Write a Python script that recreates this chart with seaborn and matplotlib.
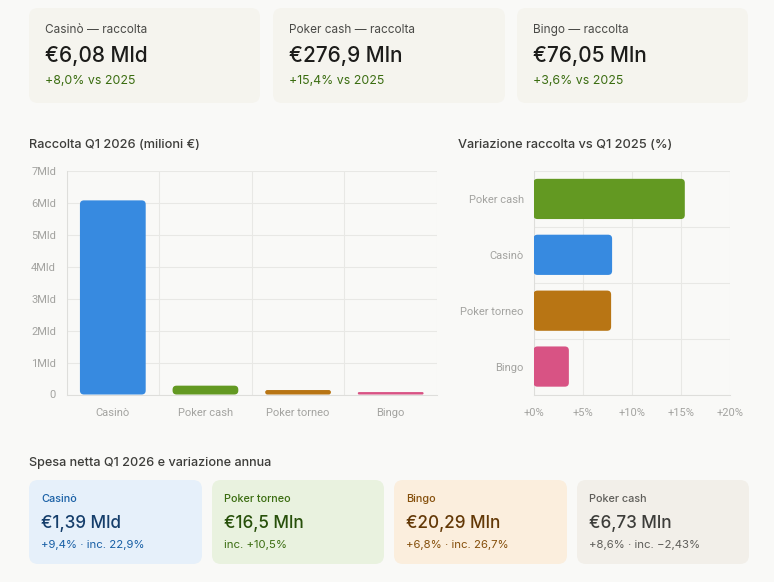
import matplotlib
matplotlib.use('Agg')
import matplotlib.pyplot as plt
import pandas as pd
import seaborn as sns
from matplotlib.patches import FancyBboxPatch
from matplotlib.transforms import Affine2D

# data
categories = ['Casinò', 'Poker cash', 'Poker torneo', 'Bingo']
raccolta = [6080, 276.9, 140, 76.05]
var_categories = ['Poker cash', 'Casinò', 'Poker torneo', 'Bingo']
variazione = [15.4, 8.0, 7.9, 3.6]
y_ticks = [0, 1000, 2000, 3000, 4000, 5000, 6000, 7000]
y_labels = ['0', '1Mld', '2Mld', '3Mld', '4Mld', '5Mld', '6Mld', '7Mld']
x_ticks = [0, 5, 10, 15, 20]
x_labels = ['+0%', '+5%', '+10%', '+15%', '+20%']

top_labels = ['Casinò — raccolta', 'Poker cash — raccolta', 'Bingo — raccolta']
top_values = ['€6,08 Mld', '€276,9 Mln', '€76,05 Mln']
top_deltas = ['+8,0% vs 2025', '+15,4% vs 2025', '+3,6% vs 2025']

bottom_labels = ['Casinò', 'Poker torneo', 'Bingo', 'Poker cash']
bottom_values = ['€1,39 Mld', '€16,5 Mln', '€20,29 Mln', '€6,73 Mln']
bottom_notes = ['+9,4% · inc. 22,9%', 'inc. +10,5%', '+6,8% · inc. 26,7%', '+8,6% · inc. −2,43%']

BG = '#f9f9f7'
GRID = '#e8e8e5'
TICK = '#a3a3a0'
colors = {'Casinò': '#378ae0', 'Poker cash': '#639922', 'Poker torneo': '#b87514', 'Bingo': '#d85384'}

W, H = 774, 582
sns.set_theme(style='white')
plt.rcParams['font.family'] = ['Inter', 'DejaVu Sans']
fig = plt.figure(figsize=(W / 100, H / 100), dpi=100, facecolor=BG)

# pixel coords, y going down like the screenshot
px = Affine2D().scale(1, -1).translate(0, H)


def card(x0, y0, x1, y1, color, r=9):
    fig.add_artist(FancyBboxPatch((x0 + r, y0 + r), x1 - x0 - 2 * r, y1 - y0 - 2 * r,
                                  boxstyle=f'round,pad={r},rounding_size={r}',
                                  fc=color, ec='none', transform=px))


def label(x, y, s, size, color, weight='normal'):
    fig.text(x, y, s, fontsize=size, color=color, fontweight=weight, va='center', ha='left', transform=px)


def axes_px(x0, y0, x1, y1):
    return fig.add_axes([x0 / W, 1 - y1 / H, (x1 - x0) / W, (y1 - y0) / H])


def style_axes(ax):
    ax.set_facecolor(BG)
    ax.set_xlabel('')
    ax.set_ylabel('')
    ax.grid(True, color=GRID, lw=0.75)
    ax.set_axisbelow(True)
    for s in ax.spines.values():
        s.set_visible(False)
    for s in ['left', 'bottom']:
        ax.spines[s].set_visible(True)
        ax.spines[s].set_color('#dededb')
        ax.spines[s].set_linewidth(0.75)
    ax.tick_params(length=3, width=0.75, color=GRID, labelcolor=TICK, labelsize=8, pad=4.5)
    for t in ax.get_xticklabels() + ax.get_yticklabels():
        t.set_fontfamily('Roboto')


def round_bars(ax, cols, r=4):
    # swap seaborn's square bars for rounded ones at the same place
    fig.canvas.draw()
    for p, c in zip(list(ax.patches), cols):
        b = p.get_window_extent()
        rr = min(r, b.width / 2, b.height / 2)
        p.set_visible(False)
        ax.add_patch(FancyBboxPatch((b.x0 + rr, b.y0 + rr), b.width - 2 * rr, b.height - 2 * rr,
                                    boxstyle=f'round,pad={rr},rounding_size={rr}',
                                    fc=c, ec='none', transform=None, zorder=3))


# top cards
top_x = [(29, 260), (273, 505), (517, 748)]
for (x0, x1), a, b, c in zip(top_x, top_labels, top_values, top_deltas):
    card(x0, 8, x1, 103, '#f5f4ee')
    label(x0 + 16, 30, a, 8.5, '#4a4a47')
    label(x0 + 16, 56, b, 15, '#1c1c1a', 'medium')
    label(x0 + 16, 81.5, c, 8.9, '#3b6d11')

# left chart
label(29, 145, 'Raccolta Q1 2026 (milioni €)', 9.2, '#3d3d3a', 'medium')
ax1 = axes_px(66.5, 171, 437, 394.5)
df1 = pd.DataFrame({'cat': categories, 'val': raccolta})
sns.barplot(data=df1, x='cat', y='val', hue='cat', palette=colors, width=0.71, legend=False, ax=ax1)
ax1.set_ylim(0, 7000)
ax1.set_xlim(-0.5, 3.5)
ax1.set_yticks(y_ticks, y_labels)
ax1.set_xticks([-0.5, 0.5, 1.5, 2.5, 3.5], minor=False, labels=[''] * 5)
ax1.set_xticks([0, 1, 2, 3], categories, minor=True)
style_axes(ax1)
ax1.tick_params(axis='x', which='major', length=5.4)
ax1.tick_params(axis='x', which='minor', length=0, labelcolor=TICK, labelsize=8, pad=9.5)
for t in ax1.get_xticklabels(minor=True):
    t.set_fontfamily('Roboto')
round_bars(ax1, [colors[c] for c in categories])

# right chart
label(458, 145, 'Variazione raccolta vs Q1 2025 (%)', 9.2, '#3d3d3a', 'medium')
ax2 = axes_px(533.5, 171, 730, 394.5)
df2 = pd.DataFrame({'cat': var_categories, 'val': variazione})
sns.barplot(data=df2, y='cat', x='val', hue='cat', palette=colors, width=0.72, legend=False, ax=ax2)
ax2.set_xlim(0, 20)
ax2.set_ylim(3.5, -0.5)
ax2.set_xticks(x_ticks, x_labels)
ax2.set_yticks([-0.5, 0.5, 1.5, 2.5, 3.5], minor=False, labels=[''] * 5)
ax2.set_yticks([0, 1, 2, 3], var_categories, minor=True)
style_axes(ax2)
ax2.tick_params(axis='x', which='major', length=5.4, pad=4)
ax2.tick_params(axis='y', which='major', length=0)
ax2.tick_params(axis='y', which='minor', length=0, labelcolor=TICK, labelsize=8, pad=7)
for t in ax2.get_yticklabels(minor=True):
    t.set_fontfamily('Roboto')
round_bars(ax2, [colors[c] for c in var_categories])

# bottom cards
label(29, 463, 'Spesa netta Q1 2026 e variazione annua', 9.1, '#3d3d3a', 'medium')
bottom_x = [(29, 202), (212, 384), (394, 567), (577, 749)]
bottom_bg = ['#e6f0fa', '#e9f2df', '#fbeedd', '#f2efe9']
bottom_fg = [('#185fa5', '#153e6b', '#185fa5'), ('#3b6d11', '#27500a', '#3b6d11'),
             ('#854f0b', '#633806', '#854f0b'), ('#5f5e5a', '#3d3d3a', '#5f5e5a')]
for (x0, x1), bg, fg, a, b, c in zip(bottom_x, bottom_bg, bottom_fg, bottom_labels, bottom_values, bottom_notes):
    card(x0, 480, x1, 564, bg)
    label(x0 + 12, 499.5, a, 7.8, fg[0], 'medium')
    label(x0 + 12, 523.5, b, 12.3, fg[1], 'medium')
    label(x0 + 12, 545.5, c, 8.2, fg[2])

fig.savefig('out.png', dpi=100, facecolor=BG)
